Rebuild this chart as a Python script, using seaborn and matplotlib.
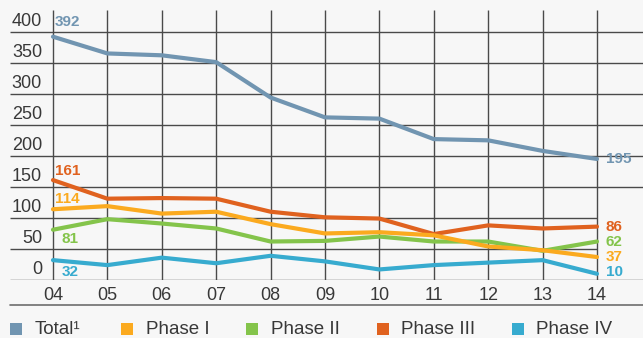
import numpy as np
import pandas as pd
import seaborn as sns
import matplotlib.pyplot as plt
import matplotlib.transforms as mtransforms
from matplotlib.patches import Rectangle
from matplotlib.lines import Line2D

years = ['04', '05', '06', '07', '08', '09', '10', '11', '12', '13', '14']
total = [392, 365, 362, 351, 294, 262, 260, 227, 225, 208, 195]
phase1 = [114, 119, 107, 110, 90, 75, 77, 72, 54, 48, 37]
phase2 = [81, 98, 91, 83, 62, 63, 70, 62, 62, 47, 62]
phase3 = [161, 131, 132, 131, 110, 101, 99, 74, 88, 83, 86]
phase4 = [32, 24, 36, 27, 39, 30, 17, 24, 28, 32, 10]
yticks = [0, 50, 100, 150, 200, 250, 300, 350, 400]

series_names = ['Total', 'Phase I', 'Phase II', 'Phase III', 'Phase IV']
legend_labels = ['Total\u00b9', 'Phase I', 'Phase II', 'Phase III', 'Phase IV']
colors = {'Total': '#7195B1', 'Phase I': '#FBAA1F', 'Phase II': '#84C44B',
          'Phase III': '#E0621F', 'Phase IV': '#37ABCF'}

sns.set_theme(style='white')
plt.rcParams['font.family'] = ['Liberation Sans', 'DejaVu Sans']

rows = []
for name, vals in zip(series_names, [total, phase1, phase2, phase3, phase4]):
    for i, v in enumerate(vals):
        rows.append({'idx': i, 'year': years[i], 'value': v, 'series': name})
df = pd.DataFrame(rows)

W, H = 643, 338
BG = '#F7F7F7'
TXT = '#383838'
fig = plt.figure(figsize=(W / 100, H / 100), dpi=100, facecolor=BG)
ax = fig.add_axes([10 / W, (H - 280) / H, 633 / W, 270 / H], facecolor=BG)

xmin, xmax = -0.79, 10.846
ytop = 435
ax.set_xlim(xmin, xmax)
ax.set_ylim(0, ytop)

grid_c = '#4a4a4a'
ax.vlines(range(len(years)), 0, ytop, color=grid_c, lw=1.0, zorder=1)
for v in yticks:
    right = 10 if v in (50, 100) else xmax
    ax.hlines(v, xmin, right, color=grid_c, lw=1.0, zorder=1)

draw_order = ['Total', 'Phase II', 'Phase III', 'Phase I', 'Phase IV']
sns.lineplot(data=df, x='idx', y='value', hue='series', hue_order=draw_order,
             palette=colors, linewidth=3.0, legend=False, ax=ax,
             solid_capstyle='round', solid_joinstyle='round', zorder=3)

for s in ax.spines.values():
    s.set_visible(False)
ax.set_xlabel('')
ax.set_ylabel('')
ax.set_xticks(range(len(years)))
ax.set_xticklabels(years)
ax.set_yticks([])
ax.tick_params(axis='x', length=0, pad=5, labelsize=13, labelcolor=TXT)

trans = mtransforms.blended_transform_factory(ax.transAxes, ax.transData) + \
    mtransforms.ScaledTranslation(0, 5.5 / 100, fig.dpi_scale_trans)
for v in yticks:
    ax.text(32 / 633, v, str(v), transform=trans, ha='right', va='baseline',
            fontsize=13, color=TXT)

px = 0.72
start = {'Total': (2, 15, 'left'), 'Phase III': (2, 9.5, 'left'),
         'Phase I': (2, 10, 'left'), 'Phase II': (9, -9, 'left'),
         'Phase IV': (9, -12, 'left')}
data_map = dict(zip(series_names, [total, phase1, phase2, phase3, phase4]))
for name, (dx, dy, ha) in start.items():
    v = data_map[name][0]
    ax.annotate(str(v), xy=(0, v), xytext=(dx * px, dy * px), textcoords='offset points',
                ha=ha, va='center', fontsize=11, fontweight='bold', color=colors[name])
end_dy = {'Total': 0, 'Phase III': 0, 'Phase II': 0, 'Phase I': 0, 'Phase IV': 2}
last = len(years) - 1
for name, dy in end_dy.items():
    v = data_map[name][-1]
    ax.annotate(str(v), xy=(last, v), xytext=(9 * px, dy * px), textcoords='offset points',
                ha='left', va='center', fontsize=11, fontweight='bold', color=colors[name])

# separator line
fig.add_artist(Line2D([10 / W, 1], [(H - 305) / H] * 2, color='#6e6e6e', lw=1.2,
                      transform=fig.transFigure))

# legend
leg_pos = [(10, 35), (121, 146), (246, 271), (377, 401), (512, 536)]
for name, lab, (sx, tx) in zip(series_names, legend_labels, leg_pos):
    fig.add_artist(Rectangle((sx / W, (H - 335) / H), 12 / W, 12 / H,
                             transform=fig.transFigure, facecolor=colors[name],
                             edgecolor='none'))
    fig.text(tx / W, (H - 330) / H, lab, ha='left', va='center', fontsize=13.5,
             color=TXT)

fig.savefig('out.png', dpi=100, facecolor=BG)
